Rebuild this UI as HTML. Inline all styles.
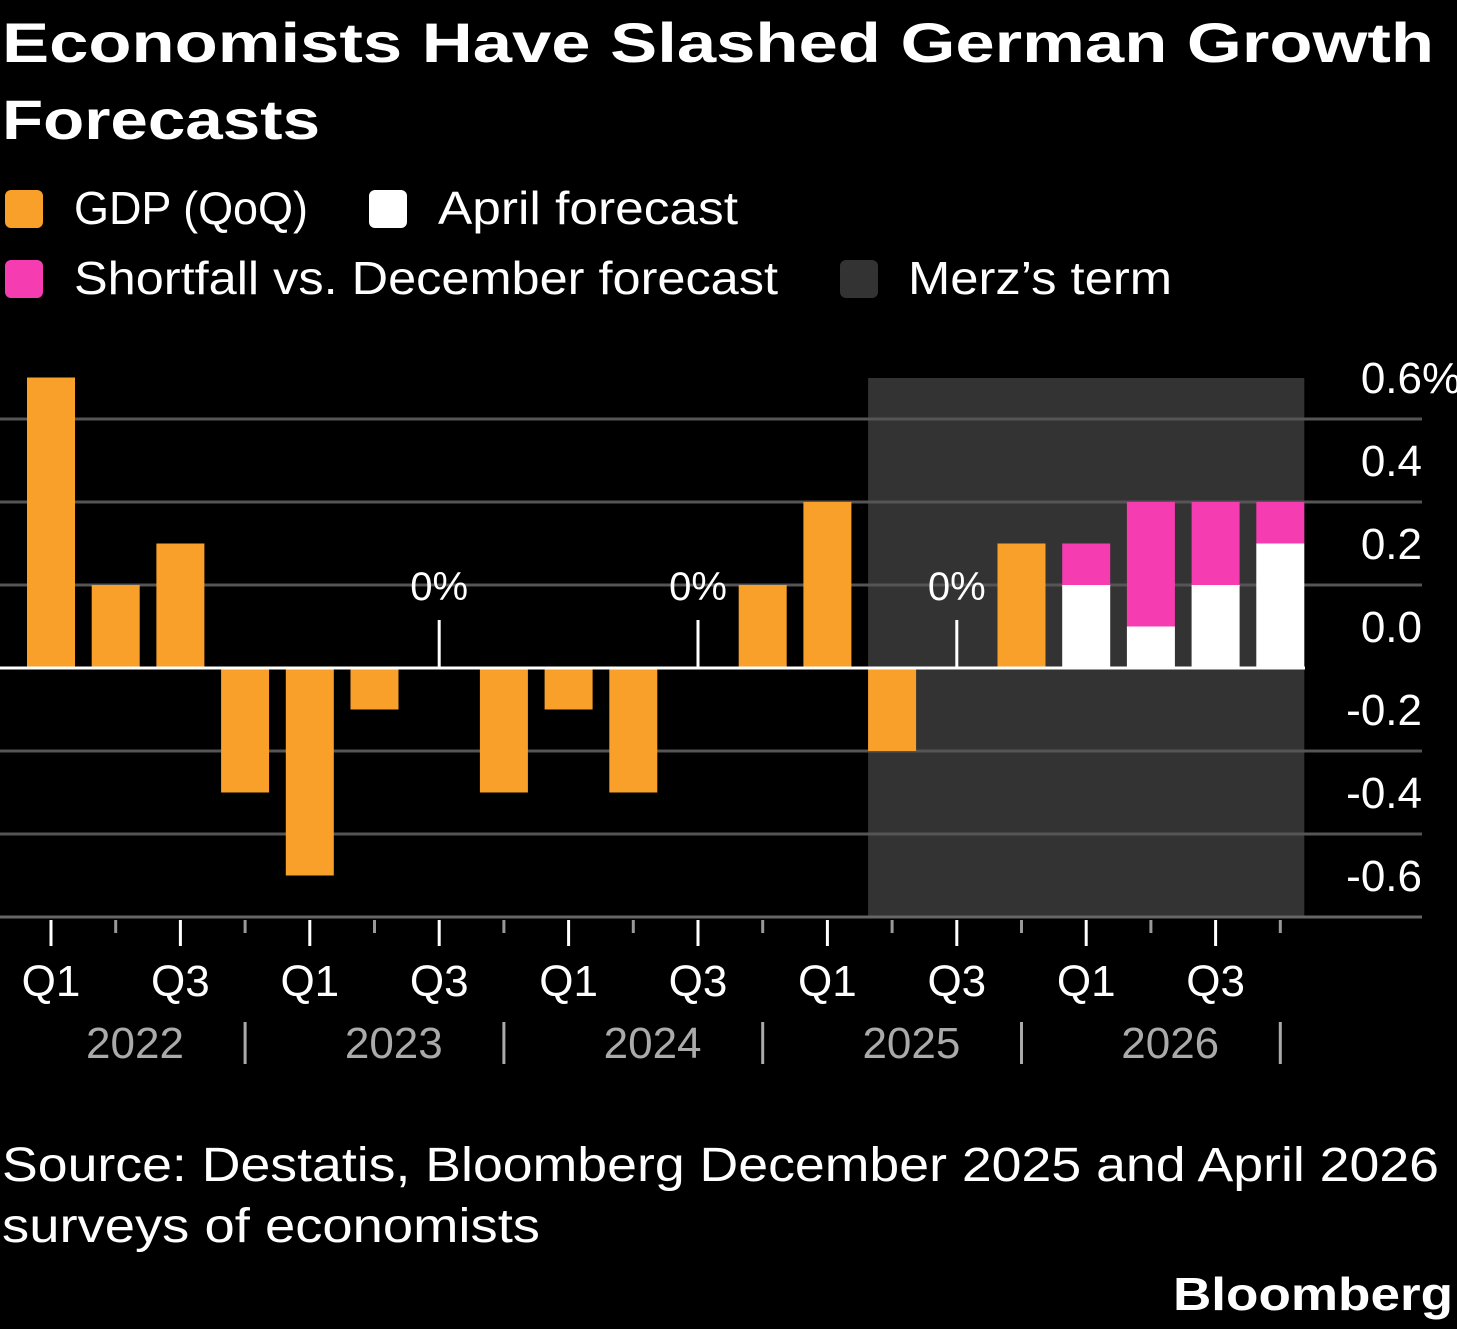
<!DOCTYPE html>
<html><head><meta charset="utf-8"><style>
html,body{margin:0;padding:0;background:#000;}
svg{display:block;font-family:"Liberation Sans",sans-serif;}
</style></head><body>
<svg id="chart" width="1457" height="1329" viewBox="0 0 1457 1329" xmlns="http://www.w3.org/2000/svg">
<rect width="1457" height="1329" fill="#000"/>
<text x="2" y="62" fill="#fff" font-size="56" font-weight="bold" textLength="1432" lengthAdjust="spacingAndGlyphs">Economists Have Slashed German Growth</text>
<text x="2" y="139" fill="#fff" font-size="56" font-weight="bold" textLength="318" lengthAdjust="spacingAndGlyphs">Forecasts</text>
<g>
<rect x="5" y="190" width="38" height="38" rx="6" fill="#f9a02b"/>
<text x="74" y="224" fill="#fff" font-size="46" textLength="234" lengthAdjust="spacingAndGlyphs">GDP (QoQ)</text>
<rect x="369" y="190" width="38" height="38" rx="6" fill="#fff"/>
<text x="438" y="224" fill="#fff" font-size="46" textLength="300" lengthAdjust="spacingAndGlyphs">April forecast</text>
<rect x="5" y="260" width="38" height="38" rx="6" fill="#f53cb0"/>
<text x="74" y="294" fill="#fff" font-size="46" textLength="704" lengthAdjust="spacingAndGlyphs">Shortfall vs. December forecast</text>
<rect x="840" y="260" width="38" height="38" rx="6" fill="#333"/>
<text x="908" y="294" fill="#fff" font-size="46" textLength="264" lengthAdjust="spacingAndGlyphs">Merz’s term</text>
</g>
<g id="plot"></g>
<text x="2" y="1181" fill="#fff" font-size="48" textLength="1437" lengthAdjust="spacingAndGlyphs">Source: Destatis, Bloomberg December 2025 and April 2026</text>
<text x="2" y="1242" fill="#fff" font-size="48" textLength="538" lengthAdjust="spacingAndGlyphs">surveys of economists</text>
<text x="1453" y="1310" fill="#fff" font-size="46" font-weight="bold" text-anchor="end" textLength="280" lengthAdjust="spacingAndGlyphs">Bloomberg</text>
</svg>
<script>
const quarters = ["Q1","Q2","Q3","Q4","Q1","Q2","Q3","Q4","Q1","Q2","Q3","Q4","Q1","Q2","Q3","Q4","Q1","Q2","Q3","Q4"];
const years = ["2022","2023","2024","2025","2026"];
const gdp = [0.7,0.2,0.3,-0.3,-0.5,-0.1,0,-0.3,-0.1,-0.3,0,0.2,0.4,-0.2,0,0.3,null,null,null,null];
const aprilForecast = [null,null,null,null,null,null,null,null,null,null,null,null,null,null,null,null,0.2,0.1,0.2,0.3];
const decemberForecast = [null,null,null,null,null,null,null,null,null,null,null,null,null,null,null,null,0.3,0.4,0.4,0.4];
const gridValues = [0.6,0.4,0.2,0,-0.2,-0.4,-0.6];
const tickLabels = ["0.6","0.4","0.2","0.0","-0.2","-0.4","-0.6"];
const merzStart = 13, merzEnd = 19;

const NS = "http://www.w3.org/2000/svg";
const plot = document.getElementById("plot");
const y = v => 668 - v * 415;
const x = i => 51 + i * 64.7;
const bw = 48;
function el(tag, attrs, parent) {
  const e = document.createElementNS(NS, tag);
  for (const k in attrs) e.setAttribute(k, attrs[k]);
  (parent || plot).appendChild(e);
  return e;
}
let e;
e = el("rect", {x: x(merzStart) - bw/2, y: 378, width: x(merzEnd) + bw/2 - (x(merzStart) - bw/2), height: 917 - 378, fill: "#333"});


gridValues.forEach((v, i) => {
  if (v !== 0) {
    e = el("line", {x1: 0, x2: 1422, y1: y(v), y2: y(v), stroke: "#555", "stroke-width": 3});
    
    
  }
  e = el("text", {x: 1422, y: y(v) - 26, fill: "#fff", "font-size": 44, "text-anchor": "end"});
  e.textContent = tickLabels[i];
  
  
  if (i === 0) {
    e = el("text", {x: 1422, y: y(v) - 26, fill: "#fff", "font-size": 44});
    e.textContent = "%";
    
    
  }
});
gdp.forEach((v, i) => {
  if (v === null) return;
  if (v === 0) {
    e = el("line", {x1: x(i), x2: x(i), y1: 620, y2: 668, stroke: "#fff", "stroke-width": 3});
    
    
    e = el("text", {x: x(i), y: 600, fill: "#fff", "font-size": 40, "text-anchor": "middle"});
    e.textContent = "0%";
    
    
    return;
  }
  e = el("rect", {x: x(i) - bw/2, y: Math.min(y(v), y(0)), width: bw, height: Math.abs(y(v) - y(0)), fill: "#f9a02b"});
  
  
});
aprilForecast.forEach((v, i) => {
  if (v === null) return;
  const d = decemberForecast[i];
  e = el("rect", {x: x(i) - bw/2, y: y(d), width: bw, height: y(v) - y(d), fill: "#f53cb0"});
  
  
  e = el("rect", {x: x(i) - bw/2, y: y(v), width: bw, height: y(0) - y(v), fill: "#fff"});
  
  
});
e = el("line", {x1: 0, x2: 1305, y1: 668, y2: 668, stroke: "#fff", "stroke-width": 3});


e = el("line", {x1: 0, x2: 1422, y1: 917, y2: 917, stroke: "#666", "stroke-width": 3});


quarters.forEach((q, i) => {
  const major = i % 2 === 0;
  e = el("line", {x1: x(i), x2: x(i), y1: 920, y2: major ? 946 : 933, stroke: major ? "#fff" : "#999", "stroke-width": 3});
  
  
  if (major) {
    e = el("text", {x: x(i), y: 996, fill: "#fff", "font-size": 44, "text-anchor": "middle"});
    e.textContent = q;
    
    
  }
});
years.forEach((yr, k) => {
  e = el("text", {x: x(k*4) + 84, y: 1058, fill: "#aaa", "font-size": 44, "text-anchor": "middle"});
  e.textContent = yr;
  
  
  e = el("line", {x1: x(k*4+3), x2: x(k*4+3), y1: 1022, y2: 1064, stroke: "#aaa", "stroke-width": 3});
  
  
});
</script>
</body></html>
